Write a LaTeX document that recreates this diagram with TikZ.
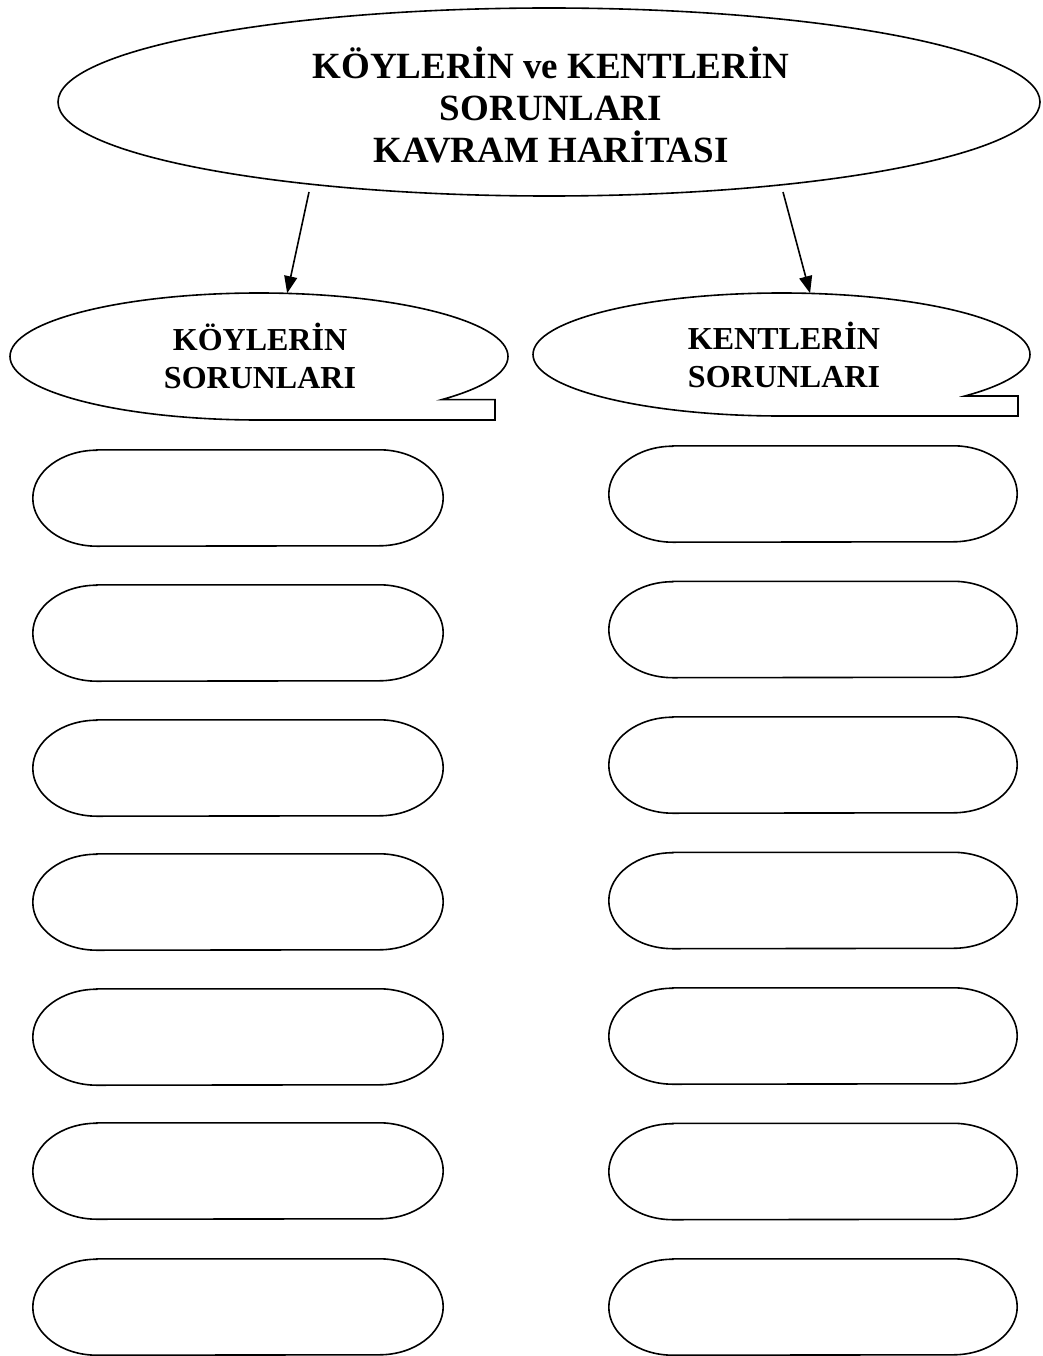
\documentclass[tikz,border=0pt]{standalone}
\usepackage{fontspec}
\setmainfont{Liberation Serif}
\usetikzlibrary{shapes.geometric,arrows.meta}
\begin{document}
\begin{tikzpicture}[x=1pt,y=1pt,
  line/.style={line width=1.6pt,draw=black},
  title/.style={font=\bfseries\fontsize{37}{44}\selectfont,anchor=base,inner sep=0pt},
  sub/.style={font=\bfseries\fontsize{32}{38}\selectfont,anchor=base,inner sep=0pt},
  slot/.style={minimum width=410pt,minimum height=96pt,inner sep=0pt,draw=none},
  slotr/.style={minimum width=408pt,minimum height=96pt,inner sep=0pt,draw=none},
  bubble/.style={ellipse,inner sep=0pt,draw=none},
  conn/.style={line width=1.6pt,-{Triangle[length=17pt,width=13pt]}}
]
\useasboundingbox (0,0) rectangle (1042,-1356);
% main ellipse
\node[ellipse,line,minimum width=982pt,minimum height=188pt,inner sep=0pt] (top) at (549,-102) {};
\node[title] (t1) at (551,-79) {KÖYLERİN ve KENTLERİN};
\node[title] (t2) at (551,-121) {SORUNLARI};
\node[title] (t3) at (551,-163) {KAVRAM HARİTASI};
% callouts
\node[bubble,minimum width=498pt,minimum height=127pt] (kc) at (259,-356.5) {};
\draw[line] (259,-420) arc[start angle=270,end angle=-42.7,x radius=249,y radius=63.5] -- (495,-399.6) -- (495,-420) -- cycle;
\node[bubble,minimum width=497pt,minimum height=123pt] (rc) at (781.5,-354.5) {};
\draw[line] (781.5,-416) arc[start angle=270,end angle=-42.4,x radius=248.5,y radius=61.5] -- (1018,-396) -- (1018,-416) -- cycle;
\node[sub] (k1) at (260,-350) {KÖYLERİN};
\node[sub] (k2) at (260,-388) {SORUNLARI};
\node[sub] (c1) at (784,-349) {KENTLERİN};
\node[sub] (c2) at (784,-387) {SORUNLARI};
% arrows
\coordinate (s1) at (309,-192);
\coordinate (s2) at (783,-192);
\draw[conn] (s1) -- (kc.66);
\draw[conn] (s2) -- (rc.65);
% slots
\foreach \i/\yl/\yr in {1/498/494, 2/633/629.5, 3/768/765, 4/902/900.5, 5/1037/1036, 6/1171/1171.5, 7/1307/1307}{
  \node[slot] (L\i) at (238,-\yl) {};
  \node[slotr] (R\i) at (813,-\yr) {};
  \draw[line] ([xshift=64pt]L\i.north west) -- ([xshift=-64pt]L\i.north east)
    arc[start angle=90,end angle=-90,x radius=64,y radius=48]
    -- ([xshift=64pt]L\i.south west)
    arc[start angle=270,end angle=90,x radius=64,y radius=48] -- cycle;
  \draw[line] ([xshift=64pt]R\i.north west) -- ([xshift=-64pt]R\i.north east)
    arc[start angle=90,end angle=-90,x radius=64,y radius=48]
    -- ([xshift=64pt]R\i.south west)
    arc[start angle=270,end angle=90,x radius=64,y radius=48] -- cycle;
}
\end{tikzpicture}
\end{document}
